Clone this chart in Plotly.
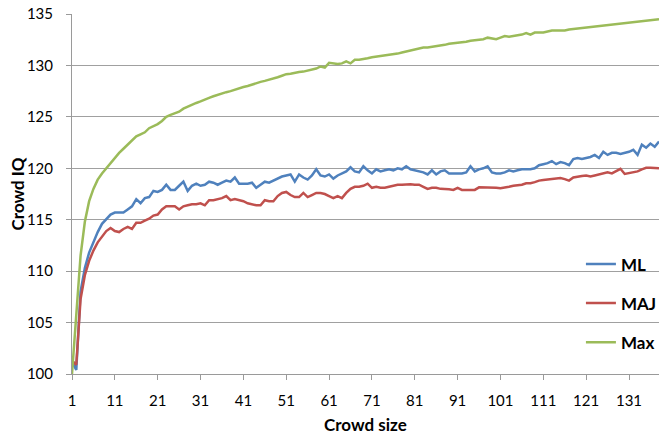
import plotly.graph_objects as go

crowd_size = list(range(1, 139))
x_tick_vals = list(range(1, 132, 10))
y_tick_vals = [100, 105, 110, 115, 120, 125, 130, 135]

ml = [101.2, 100.4, 108.0, 110.3, 111.8, 112.9, 113.8, 114.6, 115.1, 115.5,
      115.7, 115.7, 115.7, 116.0, 116.3, 117.0, 116.6, 117.1, 117.2, 117.8,
      117.7, 117.9, 118.4, 117.9, 117.9, 118.3, 118.7, 117.8, 118.3, 118.5,
      118.3, 118.4, 118.7, 118.6, 118.4, 118.6, 118.8, 118.7, 119.1, 118.5,
      118.5, 118.5, 118.6, 118.1, 118.4, 118.7, 118.6, 118.8, 119.0, 119.2,
      119.3, 119.4, 118.7, 119.4, 119.1, 118.9, 119.3, 119.9, 119.3, 119.2,
      119.4, 119.0, 119.3, 119.5, 119.7, 120.1, 119.7, 119.6, 120.2, 119.8,
      119.5, 119.9, 119.7, 119.8, 119.9, 119.8, 120.0, 119.9, 120.2, 119.9,
      119.8, 119.7, 119.6, 119.4, 119.8, 119.4, 119.7, 119.8, 119.5, 119.5,
      119.5, 119.5, 119.6, 120.2, 119.7, 119.9, 120.0, 120.2, 119.6, 119.5,
      119.5, 119.6, 119.8, 119.7, 119.8, 119.9, 119.9, 119.9, 120.0, 120.3,
      120.4, 120.5, 120.7, 120.4, 120.6, 120.5, 120.3, 120.9, 121.0, 120.9,
      121.0, 121.1, 121.3, 121.0, 121.6, 121.3, 121.5, 121.5, 121.4, 121.5,
      121.6, 121.8, 121.3, 122.3, 122.0, 122.4, 122.1, 122.6]

maj = [101.3, 100.9, 107.3, 109.6, 111.0, 112.0, 112.8, 113.3, 113.9, 114.2,
       113.9, 113.8, 114.1, 114.3, 114.1, 114.7, 114.7, 114.9, 115.1, 115.4,
       115.5, 116.0, 116.3, 116.3, 116.3, 116.0, 116.3, 116.4, 116.5, 116.5,
       116.6, 116.4, 116.9, 116.9, 117.0, 117.1, 117.3, 116.9, 117.0, 116.9,
       116.8, 116.6, 116.5, 116.4, 116.4, 116.9, 116.8, 116.8, 117.3, 117.6,
       117.7, 117.4, 117.2, 117.2, 117.6, 117.2, 117.4, 117.6, 117.6, 117.5,
       117.3, 117.1, 117.3, 117.1, 117.6, 118.0, 118.2, 118.2, 118.3, 118.5,
       118.1, 118.2, 118.1, 118.1, 118.2, 118.3, 118.4, 118.4, 118.45, 118.45,
       118.4, 118.4, 118.2, 118.0, 118.1, 118.1, 118.0, 118.0, 117.95, 117.9,
       118.1, 117.9, 117.9, 117.9, 117.9, 118.15, 118.15, 118.15, 118.15, 118.1,
       118.05, 118.1, 118.2, 118.3, 118.35, 118.4, 118.55, 118.55, 118.65, 118.8,
       118.85, 118.9, 119.0, 119.05, 119.05, 118.95, 118.8, 119.1, 119.2, 119.25,
       119.3, 119.2, 119.3, 119.4, 119.5, 119.6, 119.5, 119.7, 119.95, 119.45,
       119.55, 119.6, 119.7, 119.9, 120.05, 120.05, 120.0, 120.0]

mx = [100.0, 105.9, 111.5, 114.8, 116.8, 118.0, 118.9, 119.5, 120.0, 120.6,
      121.0, 121.5, 121.9, 122.3, 122.6, 123.1, 123.3, 123.5, 123.9, 124.1,
      124.3, 124.6, 125.0, 125.2, 125.35, 125.5, 125.8, 126.0, 126.15, 126.35,
      126.5, 126.7, 126.85, 127.0, 127.15, 127.3, 127.4, 127.5, 127.65, 127.8,
      127.9, 128.0, 128.15, 128.3, 128.4, 128.5, 128.6, 128.7, 128.85, 129.0,
      129.15, 129.2, 129.3, 129.35, 129.4, 129.5, 129.55, 129.7, 129.9, 129.8,
      130.25, 130.2, 130.15, 130.2, 130.4, 130.2, 130.55, 130.55, 130.6, 130.7,
      130.8, 130.85, 130.9, 130.95, 131.05, 131.1, 131.15, 131.25, 131.35, 131.45,
      131.5, 131.6, 131.75, 131.75, 131.8, 131.85, 131.9, 132.0, 132.1, 132.15,
      132.15, 132.25, 132.3, 132.4, 132.45, 132.5, 132.55, 132.7, 132.65, 132.55,
      132.7, 132.85, 132.8, 132.85, 132.95, 133.0, 133.15, 133.0, 133.2, 133.2,
      133.2, 133.3, 133.4, 133.4, 133.4, 133.4, 133.5, 133.55, 133.6, 133.65,
      133.7, 133.75, 133.8, 133.85, 133.9, 133.95, 134.0, 134.0, 134.05, 134.1,
      134.2, 134.25, 134.3, 134.3, 134.35, 134.4, 134.45, 134.5]

series = [("ML", ml, "#4F81BD"), ("MAJ", maj, "#C0504D"), ("Max", mx, "#9BBB59")]

FONT = "Lato, Calibri, 'Open Sans', sans-serif"

fig = go.Figure()
for name, vals, color in series:
    fig.add_trace(go.Scatter(
        x=crowd_size, y=vals, mode="lines", name=name, legendgroup=name,
        line=dict(color=color, width=2.5), hoverinfo="skip",
    ))

fig.update_layout(
    width=666, height=440,
    margin=dict(l=72, r=4, t=11, b=66),
    paper_bgcolor="white", plot_bgcolor="white",
    font=dict(family=FONT, size=15, color="#000000"),
    showlegend=True,
    legend=dict(
        x=0.867, xanchor="left", y=0.196, yanchor="middle",
        bgcolor="rgba(0,0,0,0)",
        font=dict(family=FONT, size=17, color="#000", weight="bold"),
        tracegroupgap=14, itemwidth=30, traceorder="grouped",
    ),
    xaxis=dict(
        range=[1, 138], tickmode="array", tickvals=x_tick_vals,
        ticktext=[str(v) for v in x_tick_vals],
        showgrid=False, zeroline=False,
        showline=True, linecolor="#9A9A9A", linewidth=1,
        ticks="outside", ticklen=5, tickcolor="#9A9A9A",
        ticklabelstandoff=8, ticklabeloverflow="allow",
        tickfont=dict(family=FONT, size=15, color="#000"),
    ),
    yaxis=dict(
        range=[100, 135], tickmode="array", tickvals=y_tick_vals,
        showgrid=True, gridcolor="#A0A0A0", gridwidth=1, zeroline=False,
        showline=True, linecolor="#9A9A9A", linewidth=1,
        ticks="outside", ticklen=5, tickcolor="#9A9A9A",
        ticklabelstandoff=10, ticklabeloverflow="allow",
        tickfont=dict(family=FONT, size=15, color="#000"),
    ),
    annotations=[
        dict(text="<b>Crowd IQ</b>", xref="paper", yref="paper",
             x=-0.093, y=0.5, xanchor="center", yanchor="middle",
             textangle=-90, showarrow=False,
             font=dict(family=FONT, size=17, color="#000")),
        dict(text="<b>Crowd size</b>", xref="paper", yref="paper",
             x=0.5, y=-0.14, xanchor="center", yanchor="middle",
             showarrow=False,
             font=dict(family=FONT, size=17, color="#000")),
    ],
)

# remove the browser's default 8px body margin so the figure sits at (0, 0)
fig.write_html("out.html", config={"displayModeBar": False},
               post_script="document.body.style.margin='0px';")
